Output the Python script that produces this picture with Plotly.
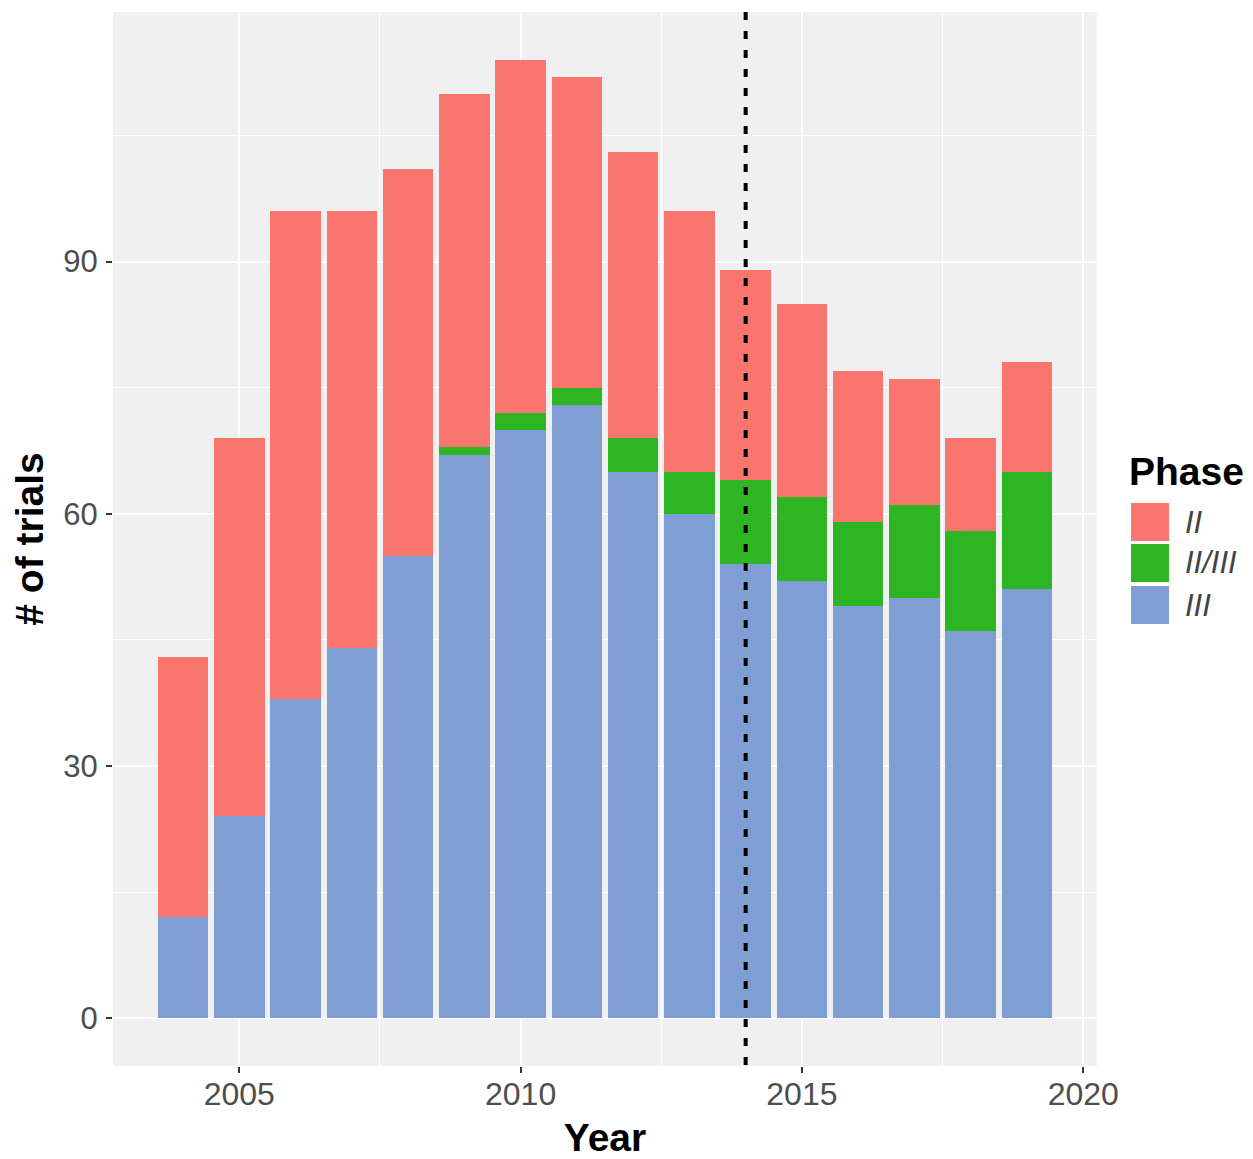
import plotly.graph_objects as go

# ---- data ----
years = list(range(2004, 2020))
phase_names = ["II", "II/III", "III"]
phase_ii = [31, 45, 58, 52, 46, 42, 42, 37, 34, 31, 25, 23, 18, 15, 11, 13]
phase_ii_iii = [0, 0, 0, 0, 0, 1, 2, 2, 4, 5, 10, 10, 10, 11, 12, 14]
phase_iii = [12, 24, 38, 44, 55, 67, 70, 73, 65, 60, 54, 52, 49, 50, 46, 51]
cutoff_year = 2014
x_ticks = [2005, 2010, 2015, 2020]
y_ticks = [0, 30, 60, 90]

colors = {"II": "#F8766D", "II/III": "#2DB523", "III": "#7F9FD4"}
series = {"II": phase_ii, "II/III": phase_ii_iii, "III": phase_iii}

FONT = "Liberation Sans, Arial, Helvetica, sans-serif"
OFF = 8  # page body margin
W, H = 1253 - OFF, 1159 - OFF
PL, PR, PT, PB = 113 - OFF, 1097 - OFF, 12 - OFF, 1066 - OFF  # panel pixel bounds


def px(x):
    return (x - OFF - PL) / (PR - PL)


def py(y):
    return (PB - (y - OFF)) / (PB - PT)


fig = go.Figure()
# stack bottom-up: III, II/III, II
for name in ["III", "II/III", "II"]:
    fig.add_trace(go.Bar(
        x=years, y=series[name], name=name,
        marker=dict(color=colors[name], line=dict(width=0)),
        showlegend=False,
    ))

fig.add_shape(type="line", xref="x", yref="paper", x0=cutoff_year, x1=cutoff_year,
              y0=1, y1=0, line=dict(color="black", width=4, dash="8px,11px"), layer="above")

# custom legend (ggplot-style large keys)
shapes_y = [(503, 541), (544, 582), (586, 624)]
annotations = [dict(text="<b>Phase</b>", xref="paper", yref="paper", x=px(1127), y=py(472),
                    xanchor="left", yanchor="middle", showarrow=False,
                    font=dict(family=FONT, size=39, color="black"))]
for name, (y0, y1) in zip(phase_names, shapes_y):
    fig.add_shape(type="rect", xref="paper", yref="paper", x0=px(1131), x1=px(1169),
                  y0=py(y1), y1=py(y0), fillcolor=colors[name], line=dict(width=0))
    annotations.append(dict(text=name, xref="paper", yref="paper", x=px(1183), y=py((y0 + y1) / 2),
                            xanchor="left", yanchor="middle", showarrow=False,
                            font=dict(family=FONT, size=31, color="#444444", style="italic")))

fig.update_layout(
    width=W, height=H,
    barmode="stack", bargap=0.1,
    plot_bgcolor="#F0F0F0", paper_bgcolor="white",
    margin=dict(l=PL, r=W - PR, t=PT, b=H - PB, autoexpand=False),
    font=dict(family=FONT, size=31, color="#4D4D4D"),
    annotations=annotations,
    showlegend=False,
)
fig.update_xaxes(
    range=[2002.755, 2020.245], tickvals=x_ticks, ticks="outside", ticklen=6, tickwidth=2,
    tickcolor="#333333", showgrid=True, gridcolor="white", gridwidth=2, zeroline=False,
    minor=dict(tickvals=[2002.5, 2007.5, 2012.5, 2017.5], showgrid=True, gridcolor="white",
               gridwidth=1, ticks=""),
    tickfont=dict(size=32, color="#4D4D4D"),
    ticklabelstandoff=-6,
    title=dict(text="<b>Year</b>", font=dict(size=39, color="black"), standoff=12),
    automargin=False,
)
fig.update_yaxes(
    range=[-5.7, 119.7], tickvals=y_ticks, ticks="outside", ticklen=6, tickwidth=2,
    tickcolor="#333333", showgrid=True, gridcolor="white", gridwidth=2, zeroline=False,
    minor=dict(tickvals=[15, 45, 75, 105], showgrid=True, gridcolor="white",
               gridwidth=1, ticks=""),
    tickfont=dict(size=31, color="#4D4D4D"),
    title=dict(text="<b># of trials</b>", font=dict(size=39, color="black"), standoff=16),
    ticklabelstandoff=2,
    automargin=False,
)

fig.write_html("out.html")
